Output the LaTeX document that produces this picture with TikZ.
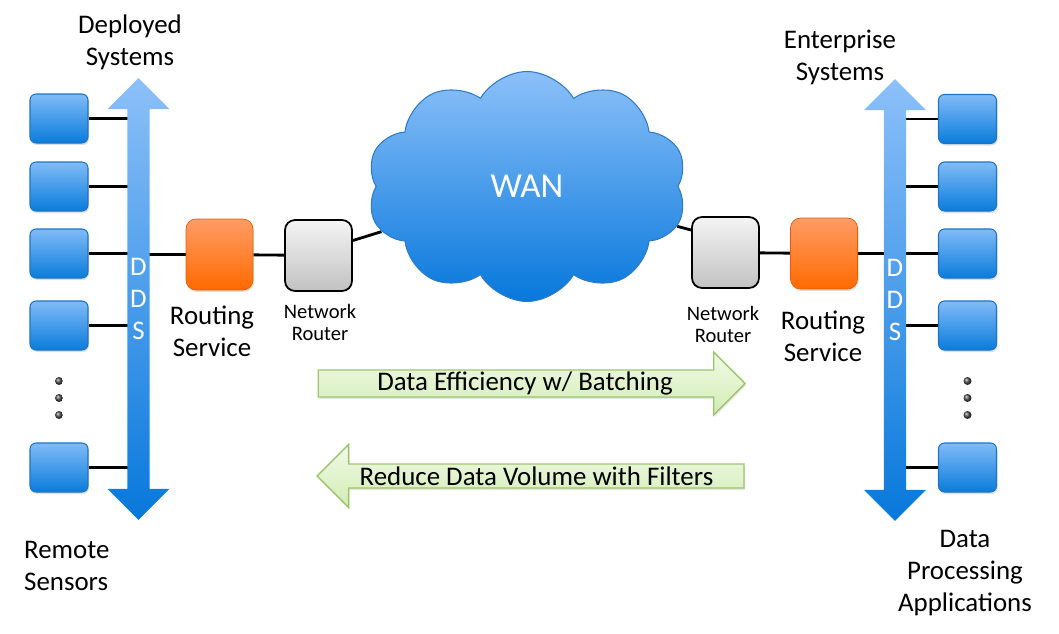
\documentclass[tikz,border=0pt]{standalone}
\usepackage{fontspec}
\setmainfont{Carlito}
\usepackage{tikz}
\usetikzlibrary{shapes.arrows,shapes.symbols,shadows,backgrounds}

\definecolor{boxtop}{HTML}{80BBF7}
\definecolor{boxbot}{HTML}{0A7CDB}
\definecolor{boxline}{HTML}{1C74C6}
\definecolor{ortop}{HTML}{FF9C66}
\definecolor{orbot}{HTML}{FF6A00}
\definecolor{grtop}{HTML}{F4F4F4}
\definecolor{grbot}{HTML}{C2C2C2}
\definecolor{gntop}{HTML}{F1FAE7}
\definecolor{gnbot}{HTML}{D2ECB3}
\definecolor{gnline}{HTML}{9CC56C}
\definecolor{cltop}{HTML}{8CC0F9}
\definecolor{clbot}{HTML}{0778DB}
\definecolor{clline}{HTML}{2E7CC6}

\newcommand{\bigfont}{\fontsize{15.3}{18.4}\selectfont}
\newcommand{\smallfont}{\fontsize{11.7}{13}\selectfont}

\begin{document}
\begin{tikzpicture}[
    x=0.02cm, y=-0.02cm,
    sensor/.style={shape=rectangle, rounded corners=0.12cm, draw=boxline, line width=0.6pt,
        top color=boxtop, bottom color=boxbot, minimum width=1.16cm, minimum height=0.98cm,
        drop shadow={opacity=0.25, shadow xshift=0.02cm, shadow yshift=-0.04cm}},
    routing/.style={shape=rectangle, rounded corners=0.2cm, draw=orbot!90!black, line width=0.4pt,
        top color=ortop, bottom color=orbot, minimum width=1.34cm, minimum height=1.42cm,
        drop shadow={opacity=0.25, shadow xshift=0.02cm, shadow yshift=-0.04cm}},
    router/.style={shape=rectangle, rounded corners=0.2cm, draw=black, line width=1pt,
        top color=grtop, bottom color=grbot, minimum width=1.34cm, minimum height=1.42cm},
    ddsbus/.style={shape=double arrow, shape border rotate=90, top color=cltop, bottom color=clbot,
        minimum height=8.84cm, minimum width=1.24cm, double arrow head extend=0.31cm,
        inner sep=0pt, align=center, text=white, font=\bigfont},
    infoarrow/.style={shape=single arrow, draw=gnline, line width=0.8pt, top color=gntop, bottom color=gnbot,
        minimum height=8.54cm, minimum width=1.26cm, single arrow head extend=0.33cm,
        inner sep=0pt, font=\bigfont,
        drop shadow={opacity=0.2, shadow xshift=0.02cm, shadow yshift=-0.04cm}},
    dot/.style={shape=circle, inner sep=0pt, minimum size=0.16cm, ball color=black!70},
    lbl/.style={align=center, font=\bigfont},
    small/.style={align=center, font=\smallfont},
    wire/.style={line width=1.6pt},
]
\useasboundingbox (0,0) rectangle (1059,633);

% left side
\node[ddsbus] (ddsl) at (138.5, 299) {D\\D\\S};
\node[sensor] (bl1) at (59, 118.5) {};
\node[sensor] (bl2) at (59, 186.5) {};
\node[sensor] (bl3) at (59, 253.5) {};
\node[sensor] (bl4) at (59, 325.5) {};
\node[dot] (dl1) at (59, 381) {};
\node[dot] (dl2) at (59, 398) {};
\node[dot] (dl3) at (59, 415) {};
\node[sensor] (bl5) at (59, 467.5) {};
\node[routing] (rsl) at (219.5, 254.5) {};
\node[router] (rtl) at (318.5, 255.5) {};

% cloud
\node[shape=cloud, cloud puffs=10, cloud puff arc=120, aspect=1.4, draw=clline, line width=0.6pt,
    top color=cltop, bottom color=clbot, minimum width=6.4cm, minimum height=4.6cm,
    text=white, font=\fontsize{20}{24}\selectfont] (wan) at (527, 186.5) {WAN};

% right side
\node[ddsbus] (ddsr) at (895, 300) {D\\D\\S};
\node[sensor] (br1) at (967.5, 119) {};
\node[sensor] (br2) at (967.5, 186.5) {};
\node[sensor] (br3) at (967.5, 253.5) {};
\node[sensor] (br4) at (967.5, 325.5) {};
\node[dot] (dr1) at (967.5, 381) {};
\node[dot] (dr2) at (967.5, 398) {};
\node[dot] (dr3) at (967.5, 415) {};
\node[sensor] (br5) at (967.5, 467.5) {};
\node[routing] (rsr) at (824, 253.5) {};
\node[router] (rtr) at (725.5, 252.5) {};

% green arrows
\node[infoarrow] (batch) at (525, 383.5) {Data Efficiency w/ Batching};
\node[infoarrow, shape border rotate=180] (filter) at (536.5, 476) {Reduce Data Volume with Filters};

% labels
\node[lbl] (deployed) at (130, 42.5) {Deployed\\Systems};
\node[lbl, align=left, anchor=west] (remote) at (18, 566) {Remote\\Sensors};
\node[lbl] (rsltxt) at (212, 331.5) {Routing\\Service};
\node[small] (rtltxt) at (320, 322.5) {Network\\Router};
\node[small] (rtrtxt) at (723, 324.5) {Network\\Router};
\node[lbl] (rsrtxt) at (823, 336.5) {Routing\\Service};
\node[lbl] (enterprise) at (840, 57.5) {Enterprise\\Systems};
\node[lbl] (dataproc) at (965, 573) {Data\\Processing\\Applications};

\begin{scope}[on background layer]
\path[wire]
    (bl1) edge (bl1 -| ddsl)
    (bl2) edge (bl2 -| ddsl)
    (bl3) edge (bl3 -| ddsl)
    (bl4) edge (bl4 -| ddsl)
    (bl5) edge (bl5 -| ddsl)
    (rsl) edge (rsl -| ddsl)
    (rsl) edge (rtl)
    ([yshift=0.3cm]rtl.east) edge (wan)
    (br1) edge (br1 -| ddsr)
    (br2) edge (br2 -| ddsr)
    (br3) edge (br3 -| ddsr)
    (br4) edge (br4 -| ddsr)
    (br5) edge (br5 -| ddsr)
    (rsr) edge (rsr -| ddsr)
    (rsr) edge (rtr)
    ([yshift=0.45cm]rtr.west) edge (wan)
;
\end{scope}
\end{tikzpicture}
\end{document}
